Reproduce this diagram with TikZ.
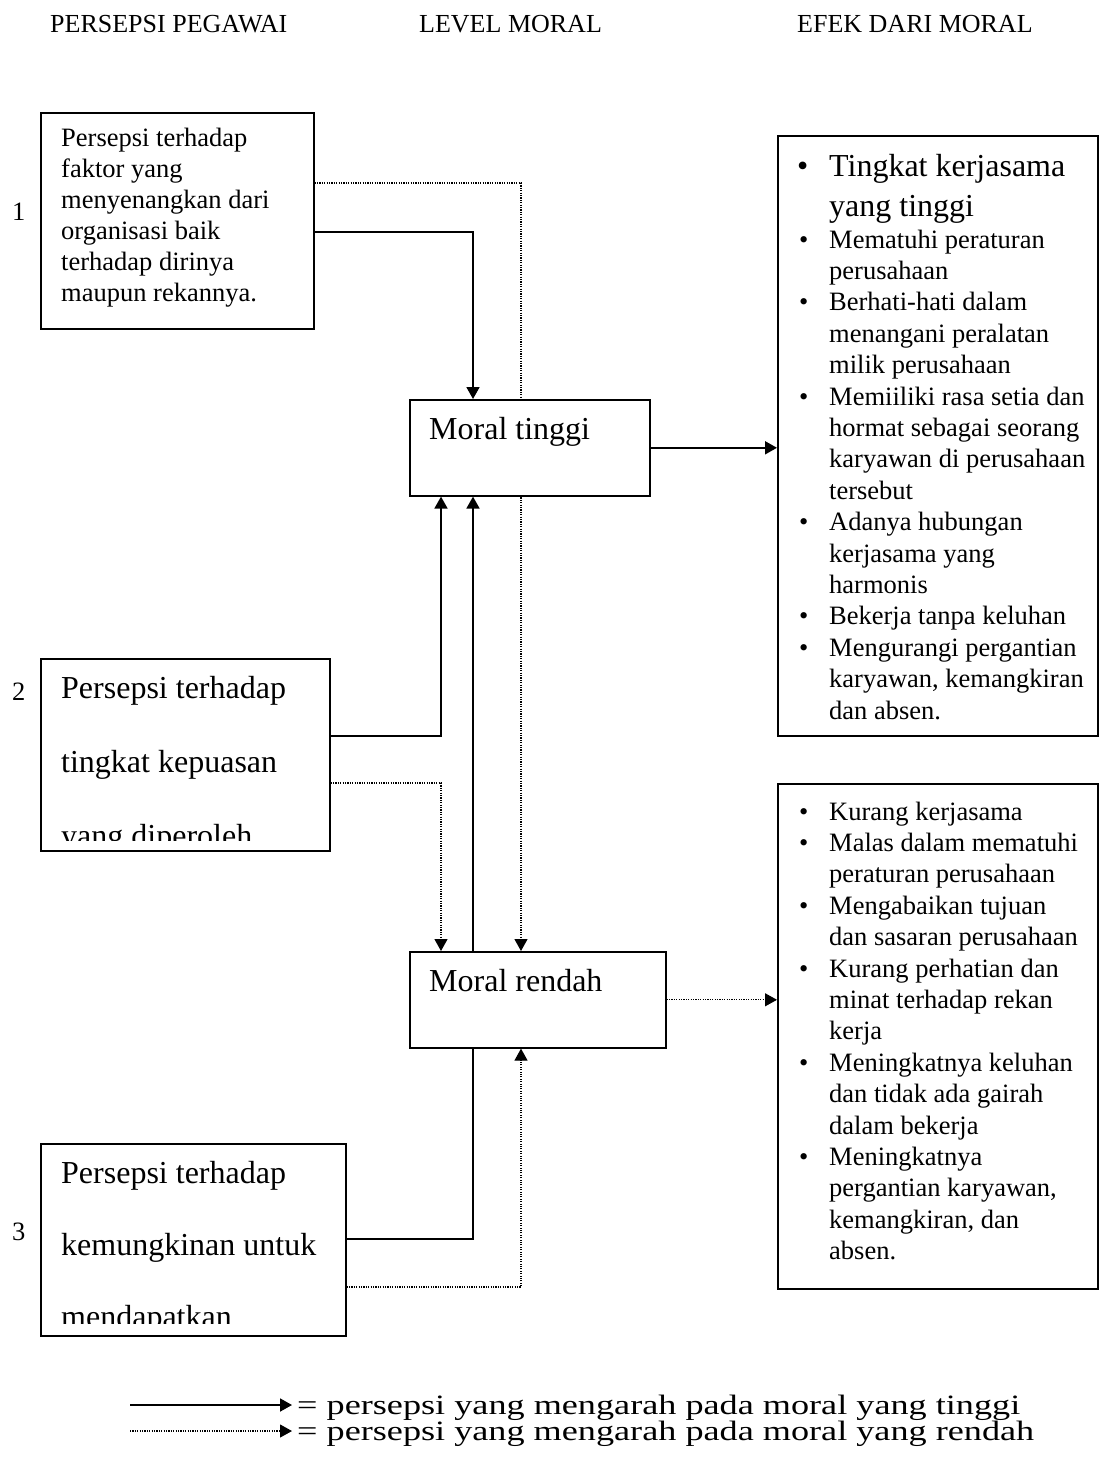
\documentclass[tikz,border=0pt]{standalone}
\usepackage{fontspec}
\setmainfont{Liberation Serif}
\usetikzlibrary{arrows.meta}
\pgfdeclarelayer{back}
\pgfdeclarelayer{bg}
\pgfsetlayers{back,bg,main}
\begin{document}
\begin{tikzpicture}[x=1pt,y=-1pt,
  box/.style={draw, line width=1.6pt, fill=white, inner sep=0pt, anchor=north west},
  solidc/.style={line width=1.8pt},
  dotc/.style={line width=1.1pt, dash pattern=on 1.1pt off 1.3pt},
  tip/.style={-{Triangle[length=12pt,width=13pt]}},
  ntext/.style={font=\fontsize{26.5}{31}\selectfont, anchor=base west, inner sep=0pt},
  btext/.style={font=\fontsize{32}{38}\selectfont, anchor=base west, inner sep=0pt},
  htext/.style={font=\fontsize{26}{31}\selectfont, anchor=base west, inner sep=0pt},
  ltext/.style={font=\fontsize{28}{31}\selectfont, anchor=base west, inner sep=0pt},
]
\useasboundingbox (0,0) rectangle (1099,1462);
\begin{pgfonlayer}{back}
\fill[white] (0,0) rectangle (1099,1462);
\end{pgfonlayer}

% headers
\node[htext] (h1) at (50,32) {PERSEPSI PEGAWAI};
\node[htext] (h2) at (419,32) {LEVEL MORAL};
\node[htext] (h3) at (797,32) {EFEK DARI MORAL};

% boxes
\node[box, minimum width=273pt, minimum height=216pt] (p1) at (40,112) {};
\node[box, minimum width=289pt, minimum height=192pt] (p2) at (40,658) {};
\node[box, minimum width=305pt, minimum height=192pt] (p3) at (40,1143) {};
\node[box, minimum width=240pt, minimum height=96pt] (mt) at (409,399) {};
\node[box, minimum width=256pt, minimum height=96pt] (mr) at (409,951) {};
\node[box, minimum width=320pt, minimum height=600pt] (e1) at (777,135) {};
\node[box, minimum width=320pt, minimum height=505pt] (e2) at (777,783) {};

% helper x positions
\coordinate (xl) at (441,0);
\coordinate (xs) at (473,0);
\coordinate (xd) at (521,0);

% connectors (drawn under the white-filled boxes)
\begin{pgfonlayer}{bg}
\draw[solidc,tip] (p1.east |- 0,232) -| (xs |- mt.north);
\draw[dotc,tip] (p1.east |- 0,183) -| (xd |- mr.north);
\draw[solidc,tip] (p2.east |- 0,736) -| (xl |- mt.south);
\draw[dotc,tip] (p2.east |- 0,783) -| (xl |- mr.north);
\draw[solidc,tip] (xs |- mr.north) -- (xs |- mt.south);
\draw[solidc] (p3.east |- 0,1239) -| (xs |- mr.south);
\draw[dotc,tip] (p3.east |- 0,1287) -| (xd |- mr.south);
\draw[solidc,tip] (mt.east) -- (mt.east -| e1.west);
\draw[dotc,tip] (mr.east) -- (mr.east -| e2.west);
\end{pgfonlayer}

% numbers
\node[ntext] (n1) at (12,220) {1};
\node[ntext] (n2) at (12,700) {2};
\node[ntext] (n3) at (12,1240) {3};

% box 1 text
\node[ntext] (t1a) at (61,146) {Persepsi terhadap};
\node[ntext] (t1b) at (61,177) {faktor yang};
\node[ntext] (t1c) at (61,208) {menyenangkan dari};
\node[ntext] (t1d) at (61,239) {organisasi baik};
\node[ntext] (t1e) at (61,270) {terhadap dirinya};
\node[ntext] (t1f) at (61,301) {maupun rekannya.};

% box 2 text (clipped)
\begin{scope}
\clip (p2.north west) rectangle (p2.east |- 0,840);
\node[btext] (t2a) at (61,698) {Persepsi terhadap};
\node[btext] (t2b) at (61,772) {tingkat kepuasan};
\node[btext] (t2c) at (61,846) {yang diperoleh};
\end{scope}

% box 3 text (clipped)
\begin{scope}
\clip (p3.north west) rectangle (p3.east |- 0,1323);
\node[btext] (t3a) at (61,1183) {Persepsi terhadap};
\node[btext] (t3b) at (61,1255) {kemungkinan untuk};
\node[btext] (t3c) at (61,1327) {mendapatkan};
\end{scope}

% moral boxes text
\node[btext] (mtt) at (429,439) {Moral tinggi};
\node[btext] (mrt) at (429,991) {Moral rendah};

% effect box 1
\node[btext] (b1) at (797,176) {•};
\node[btext] (e1a) at (829,176) {Tingkat kerjasama};
\node[btext] (e1b) at (829,216) {yang tinggi};
\node[ntext] (b2) at (799,248) {•};
\node[ntext] (e1c) at (829,248) {Mematuhi peraturan};
\node[ntext] (e1d) at (829,279.4) {perusahaan};
\node[ntext] (b3) at (799,310.8) {•};
\node[ntext] (e1e) at (829,310.8) {Berhati-hati dalam};
\node[ntext] (e1f) at (829,342.2) {menangani peralatan};
\node[ntext] (e1g) at (829,373.6) {milik perusahaan};
\node[ntext] (b4) at (799,405) {•};
\node[ntext] (e1h) at (829,405) {Memiiliki rasa setia dan};
\node[ntext] (e1i) at (829,436.4) {hormat sebagai seorang};
\node[ntext] (e1j) at (829,467.8) {karyawan di perusahaan};
\node[ntext] (e1k) at (829,499.2) {tersebut};
\node[ntext] (b5) at (799,530.6) {•};
\node[ntext] (e1l) at (829,530.6) {Adanya hubungan};
\node[ntext] (e1m) at (829,562) {kerjasama yang};
\node[ntext] (e1n) at (829,593.4) {harmonis};
\node[ntext] (b6) at (799,624.8) {•};
\node[ntext] (e1o) at (829,624.8) {Bekerja tanpa keluhan};
\node[ntext] (b7) at (799,656.2) {•};
\node[ntext] (e1p) at (829,656.2) {Mengurangi pergantian};
\node[ntext] (e1q) at (829,687.6) {karyawan, kemangkiran};
\node[ntext] (e1r) at (829,719) {dan absen.};

% effect box 2
\node[ntext] (c1) at (799,820) {•};
\node[ntext] (e2a) at (829,820) {Kurang kerjasama};
\node[ntext] (c2) at (799,851.4) {•};
\node[ntext] (e2b) at (829,851.4) {Malas dalam mematuhi};
\node[ntext] (e2c) at (829,882.8) {peraturan perusahaan};
\node[ntext] (c3) at (799,914.2) {•};
\node[ntext] (e2d) at (829,914.2) {Mengabaikan tujuan};
\node[ntext] (e2e) at (829,945.6) {dan sasaran perusahaan};
\node[ntext] (c4) at (799,977) {•};
\node[ntext] (e2f) at (829,977) {Kurang perhatian dan};
\node[ntext] (e2g) at (829,1008.4) {minat terhadap rekan};
\node[ntext] (e2h) at (829,1039.8) {kerja};
\node[ntext] (c5) at (799,1071.2) {•};
\node[ntext] (e2i) at (829,1071.2) {Meningkatnya keluhan};
\node[ntext] (e2j) at (829,1102.6) {dan tidak ada gairah};
\node[ntext] (e2k) at (829,1134) {dalam bekerja};
\node[ntext] (c6) at (799,1165.4) {•};
\node[ntext] (e2l) at (829,1165.4) {Meningkatnya};
\node[ntext] (e2m) at (829,1196.8) {pergantian karyawan,};
\node[ntext] (e2n) at (829,1228.2) {kemangkiran, dan};
\node[ntext] (e2o) at (829,1259.6) {absen.};

% legend
\node[ltext] (lg1) at (297,1414) {\resizebox{723pt}{\height}{= persepsi yang mengarah pada moral yang tinggi}};
\node[ltext] (lg2) at (297,1440) {\resizebox{737pt}{\height}{= persepsi yang mengarah pada moral yang rendah}};
\coordinate (la1) at (130,1405);
\coordinate (la2) at (130,1431);
\draw[solidc,tip] (la1) -- ([xshift=-5pt]lg1.west |- la1);
\draw[dotc,tip] (la2) -- ([xshift=-5pt]lg2.west |- la2);
\end{tikzpicture}
\end{document}
